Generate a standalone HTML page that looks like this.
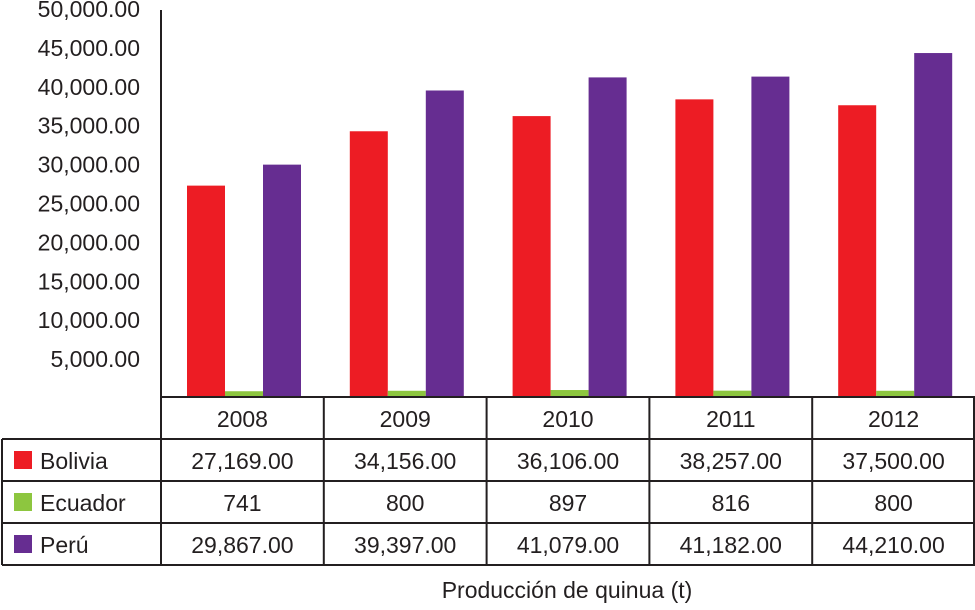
<!DOCTYPE html>
<html><head><meta charset="utf-8"><style>
body{margin:0;background:#fff;}
svg text{font-family:"Liberation Sans",sans-serif;fill:#231f20;}
</style></head><body>
<svg id="chart" width="975" height="605" xmlns="http://www.w3.org/2000/svg"></svg>
<script>
const categories=["2008","2009","2010","2011","2012"];
const seriesNames=["Bolivia","Ecuador","Perú"];
const bolivia=[27169,34156,36106,38257,37500];
const ecuador=[741,800,897,816,800];
const peru=[29867,39397,41079,41182,44210];
const boliviaLabels=["27,169.00","34,156.00","36,106.00","38,257.00","37,500.00"];
const ecuadorLabels=["741","800","897","816","800"];
const peruLabels=["29,867.00","39,397.00","41,079.00","41,182.00","44,210.00"];
const yTicks=[5000,10000,15000,20000,25000,30000,35000,40000,45000,50000];
const yTickLabels=["5,000.00","10,000.00","15,000.00","20,000.00","25,000.00","30,000.00","35,000.00","40,000.00","45,000.00","50,000.00"];
const colors=["#ed1c24","#8dc63f","#662d91"];
const svg=document.getElementById('chart');
const NS="http://www.w3.org/2000/svg";
const x0=161,colW=162.8,y0=397,yMax=50000,yTop=8;
const yScale=v=>y0-(v/yMax)*(y0-yTop);
const xGroup=i=>x0+i*colW;
function mk(tag,attrs,txt){const e=document.createElementNS(NS,tag);for(const k in attrs)e.setAttribute(k,attrs[k]);if(txt!==undefined)e.textContent=txt;svg.appendChild(e);return e;}
yTicks.forEach((t,i)=>{
  const e=mk('text',{x:140,y:yScale(t)+9,'text-anchor':'end','font-size':23},yTickLabels[i]);
  
  
});
const data=[bolivia,ecuador,peru];
categories.forEach((c,i)=>{
  data.forEach((s,j)=>{
    const y=yScale(s[i]);
    const r=mk('rect',{x:xGroup(i)+26+j*38,y:y,width:38,height:y0-y,fill:colors[j]});
    
    
  });
});
const ax=mk('line',{x1:x0,y1:10,x2:x0,y2:y0,stroke:'#231f20','stroke-width':2});


const rows=[397,439,481,523,565];
function ln(x1,y1,x2,y2){const l=mk('line',{x1,y1,x2,y2,stroke:'#231f20','stroke-width':2});}
ln(x0,rows[0],975,rows[0]);
for(let r=1;r<rows.length;r++)ln(2,rows[r],975,rows[r]);
ln(2,rows[1],2,rows[4]);
for(let i=0;i<=5;i++)ln(Math.min(xGroup(i),974),rows[0],Math.min(xGroup(i),974),rows[4]);
categories.forEach((c,i)=>{
  const t=mk('text',{x:xGroup(i)+colW/2,y:rows[0]+30,'text-anchor':'middle','font-size':23},c);
  
  
});
const labels=[boliviaLabels,ecuadorLabels,peruLabels];
seriesNames.forEach((n,j)=>{
  const ry=rows[j+1];
  const sw=mk('rect',{x:14,y:ry+12,width:18,height:18,fill:colors[j]});
  
  
  const t=mk('text',{x:40,y:ry+30,'font-size':23},n);
  
  
  labels[j].forEach((v,i)=>{
    const c=mk('text',{x:xGroup(i)+colW/2,y:ry+30,'text-anchor':'middle','font-size':23},v);
    
    
  });
});
const tt=mk('text',{x:567,y:598,'text-anchor':'middle','font-size':23},"Producción de quinua (t)");


</script>
</body></html>
